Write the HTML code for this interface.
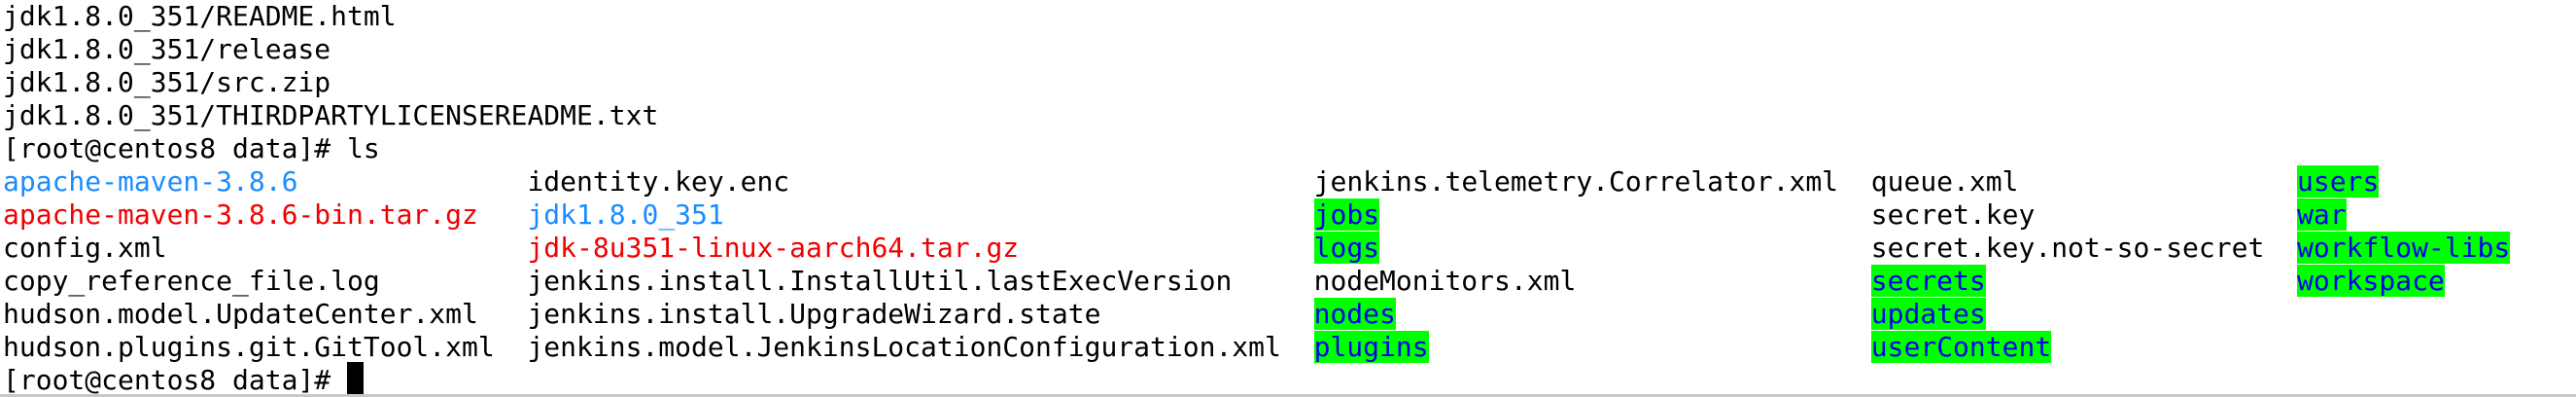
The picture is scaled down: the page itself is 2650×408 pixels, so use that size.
<!DOCTYPE html>
<html><head><meta charset="utf-8"><style>
html,body{margin:0;padding:0;background:#fff;width:2650px;height:408px;overflow:hidden;position:relative}
.l{position:absolute;left:3px;height:34px;line-height:34px;font-family:"DejaVu Sans Mono","Liberation Mono",monospace;font-size:28px;color:#000;white-space:pre}
.b{color:#1a8cff}.r{color:#f00000}.g{background:#00ff00;color:#0000ee}
.cur{position:absolute;left:357px;top:372px;width:17px;height:34px;background:#000}
.bar{position:absolute;left:0;top:405px;width:2650px;height:3px;background:#c8c8c8}
</style></head><body>
<div class="l" style="top:0">jdk1.8.0_351/README.html</div>
<div class="l" style="top:34px">jdk1.8.0_351/release</div>
<div class="l" style="top:68px">jdk1.8.0_351/src.zip</div>
<div class="l" style="top:102px">jdk1.8.0_351/THIRDPARTYLICENSEREADME.txt</div>
<div class="l" style="top:136px">[root@centos8 data]# ls</div>
<div class="l" style="top:170px"><span class="b">apache-maven-3.8.6</span>              identity.key.enc                                jenkins.telemetry.Correlator.xml  queue.xml                 <span class="g">users</span></div>
<div class="l" style="top:204px"><span class="r">apache-maven-3.8.6-bin.tar.gz</span>   <span class="b">jdk1.8.0_351</span>                                    <span class="g">jobs</span>                              secret.key                <span class="g">war</span></div>
<div class="l" style="top:238px">config.xml                      <span class="r">jdk-8u351-linux-aarch64.tar.gz</span>                  <span class="g">logs</span>                              secret.key.not-so-secret  <span class="g">workflow-libs</span></div>
<div class="l" style="top:272px">copy_reference_file.log         jenkins.install.InstallUtil.lastExecVersion     nodeMonitors.xml                  <span class="g">secrets</span>                   <span class="g">workspace</span></div>
<div class="l" style="top:306px">hudson.model.UpdateCenter.xml   jenkins.install.UpgradeWizard.state             <span class="g">nodes</span>                             <span class="g">updates</span></div>
<div class="l" style="top:340px">hudson.plugins.git.GitTool.xml  jenkins.model.JenkinsLocationConfiguration.xml  <span class="g">plugins</span>                           <span class="g">userContent</span></div>
<div class="l" style="top:374px">[root@centos8 data]# </div>
<div class="cur"></div>
<div class="bar"></div>
</body></html>
